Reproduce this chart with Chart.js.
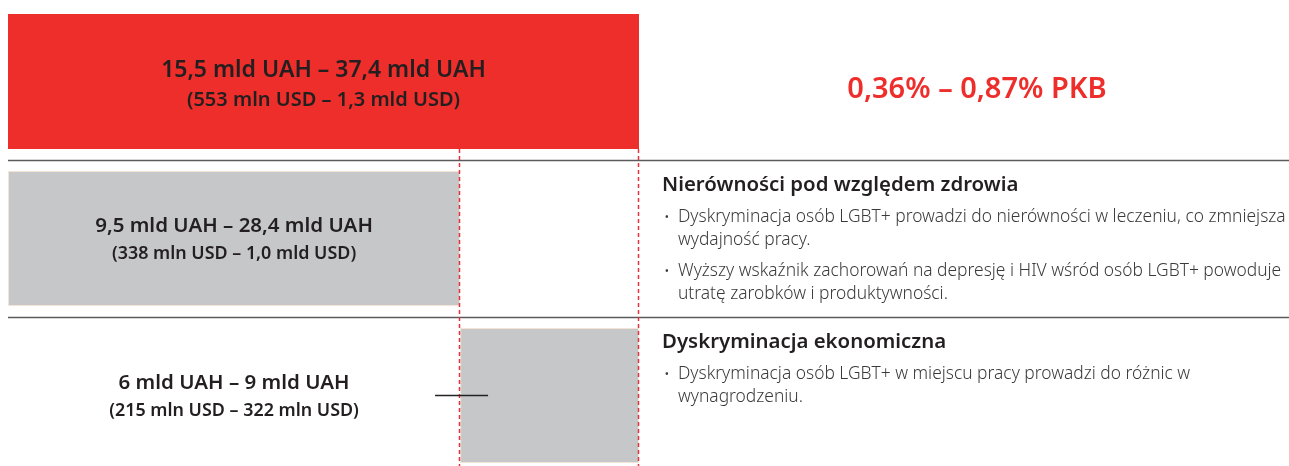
<!DOCTYPE html>
<html>
<head>
<meta charset="utf-8">
<script src="https://cdn.jsdelivr.net/npm/chart.js@4"></script>
<style>
  html, body { margin: 0; padding: 0; background: #fff; overflow: hidden; }
  #wrap { position: relative; width: 1289px; height: 476px; }
</style>
</head>
<body>
<div id="wrap"><canvas id="kosztyChart"></canvas></div>
<script>
// Koszty wykluczenia osób LGBT+ (Ukraina)
const wiersze = ['Łącznie', 'Nierówności pod względem zdrowia', 'Dyskryminacja ekonomiczna'];
const dolnyUAH = [15.5, 9.5, 6];     // mld UAH
const gornyUAH = [37.4, 28.4, 9];    // mld UAH
const dolnyUAHtxt = ['15,5 mld UAH', '9,5 mld UAH', '6 mld UAH'];
const gornyUAHtxt = ['37,4 mld UAH', '28,4 mld UAH', '9 mld UAH'];
const dolnyUSD = ['553 mln USD', '338 mln USD', '215 mln USD'];
const gornyUSD = ['1,3 mld USD', '1,0 mld USD', '322 mln USD'];
const pkb = ['0,36%', '0,87%'];
const naglowki = ['', 'Nierówności pod względem zdrowia', 'Dyskryminacja ekonomiczna'];
const punkty = [
  [],
  [
    ['Dyskryminacja osób LGBT+ prowadzi do nierówności w leczeniu, co zmniejsza', 'wydajność pracy.'],
    ['Wyższy wskaźnik zachorowań na depresję i HIV wśród osób LGBT+ powoduje', 'utratę zarobków i produktywności.']
  ],
  [
    ['Dyskryminacja osób LGBT+ w miejscu pracy prowadzi do różnic w', 'wynagrodzeniu.']
  ]
];

// srodek przedzialu jako dlugosc slupka
const srodek = dolnyUAH.map((v, i) => (v + gornyUAH[i]) / 2);
const zdrowie = srodek[1];
const razem = srodek[1] + srodek[2];
const zakresy = [[0, srodek[0]], [0, zdrowie], [zdrowie, razem]];

const CZERWONY = '#ee2e2a';
const SZARY = '#c6c7c8';

const opisy = {
  id: 'opisy',
  afterDatasetsDraw(chart) {
    const { ctx, chartArea, scales } = chart;
    const x = scales.x, y = scales.y;
    const W = chart.width, H = chart.height;
    ctx.save();

    // linie oddzielajace wiersze
    ctx.strokeStyle = '#5b5b5b';
    ctx.lineWidth = 1.6;
    [0.5, 1.5].forEach(v => {
      const py = Math.round(y.getPixelForValue(v)) + 0.5;
      ctx.beginPath();
      ctx.moveTo(chartArea.left, py);
      ctx.lineTo(W, py);
      ctx.stroke();
    });

    // przerywane linie
    const bar0 = chart.getDatasetMeta(0).data[0];
    const yStart = bar0.y + bar0.height / 2;
    ctx.strokeStyle = '#e5323c';
    ctx.lineWidth = 1.5;
    ctx.setLineDash([4, 3]);
    [zdrowie, razem].forEach(v => {
      const px = Math.round(x.getPixelForValue(v)) - 0.5;
      ctx.beginPath();
      ctx.moveTo(px, yStart);
      ctx.lineTo(px, H);
      ctx.stroke();
    });
    ctx.setLineDash([]);

    // krotka czarna kreska
    const y3 = y.getPixelForValue(2);
    const xz = x.getPixelForValue(zdrowie);
    ctx.strokeStyle = '#222';
    ctx.lineWidth = 1.4;
    ctx.beginPath();
    ctx.moveTo(xz - 25, y3);
    ctx.lineTo(xz + 28, y3);
    ctx.stroke();

    // opisy kwot
    ctx.textAlign = 'center';
    ctx.textBaseline = 'middle';
    ctx.fillStyle = '#231f20';
    for (let i = 0; i < wiersze.length; i++) {
      const cy = y.getPixelForValue(i);
      const pierwszy = i === 0;
      const cx = pierwszy ? x.getPixelForValue(srodek[0] / 2) : x.getPixelForValue(zdrowie / 2);
      ctx.font = (pierwszy ? '600 23px' : '600 20.5px') + ' "Noto Sans"';
      ctx.fillText(dolnyUAHtxt[i] + ' – ' + gornyUAHtxt[i], cx, cy + (pierwszy ? -11 : -12));
      ctx.font = (pierwszy ? '600 20px' : '600 17.9px') + ' "Noto Sans"';
      ctx.fillText('(' + dolnyUSD[i] + ' – ' + gornyUSD[i] + ')', cx, cy + (pierwszy ? 19 : 15));
    }

    // PKB
    ctx.fillStyle = CZERWONY;
    ctx.font = '600 29px "Noto Sans"';
    ctx.fillText(pkb[0] + ' – ' + pkb[1] + ' PKB', (chartArea.right + W) / 2 + 13, y.getPixelForValue(0) + 8);

    // opisy po prawej
    ctx.textAlign = 'left';
    ctx.textBaseline = 'alphabetic';
    const lx = chartArea.right + 23;
    for (let i = 1; i < wiersze.length; i++) {
      const top = y.getPixelForValue(i - 0.5);
      ctx.fillStyle = '#231f20';
      ctx.font = '600 20.4px "Noto Sans"';
      ctx.fillText(naglowki[i], lx, top + 31);
      let ly = top + 62;
      ctx.fillStyle = '#3a3a3a';
      punkty[i].forEach(p => {
        ctx.font = '300 15px "Noto Sans"';
        ctx.fillText('•', lx + 2, ly);
        ctx.font = '300 17.4px "Noto Sans"';
        p.forEach(linia => {
          ctx.fillText(linia, lx + 16, ly);
          ly += 23;
        });
        ly += 8;
      });
    }
    ctx.restore();
  }
};

document.addEventListener('DOMContentLoaded', function() {
  const ctx = document.getElementById('kosztyChart').getContext('2d');
  new Chart(ctx, {
    type: 'bar',
    data: {
      labels: wiersze,
      datasets: [{
        label: 'mld UAH',
        data: zakresy,
        backgroundColor: [CZERWONY, SZARY, SZARY],
        borderColor: [CZERWONY, '#f5e3d3', '#f5e3d3'],
        borderWidth: [0, 1, 1],
        borderSkipped: false,
        barPercentage: 0.86,
        categoryPercentage: 1
      }]
    },
    options: {
      indexAxis: 'y',
      responsive: true,
      maintainAspectRatio: false,
      animation: false,
      layout: { padding: { left: 8, right: 650, top: 3, bottom: 2 } },
      plugins: {
        legend: { display: false },
        tooltip: { enabled: false }
      },
      scales: {
        x: { display: false, min: 0, max: razem },
        y: { display: false }
      }
    },
    plugins: [opisy]
  });
});
</script>
</body>
</html>
